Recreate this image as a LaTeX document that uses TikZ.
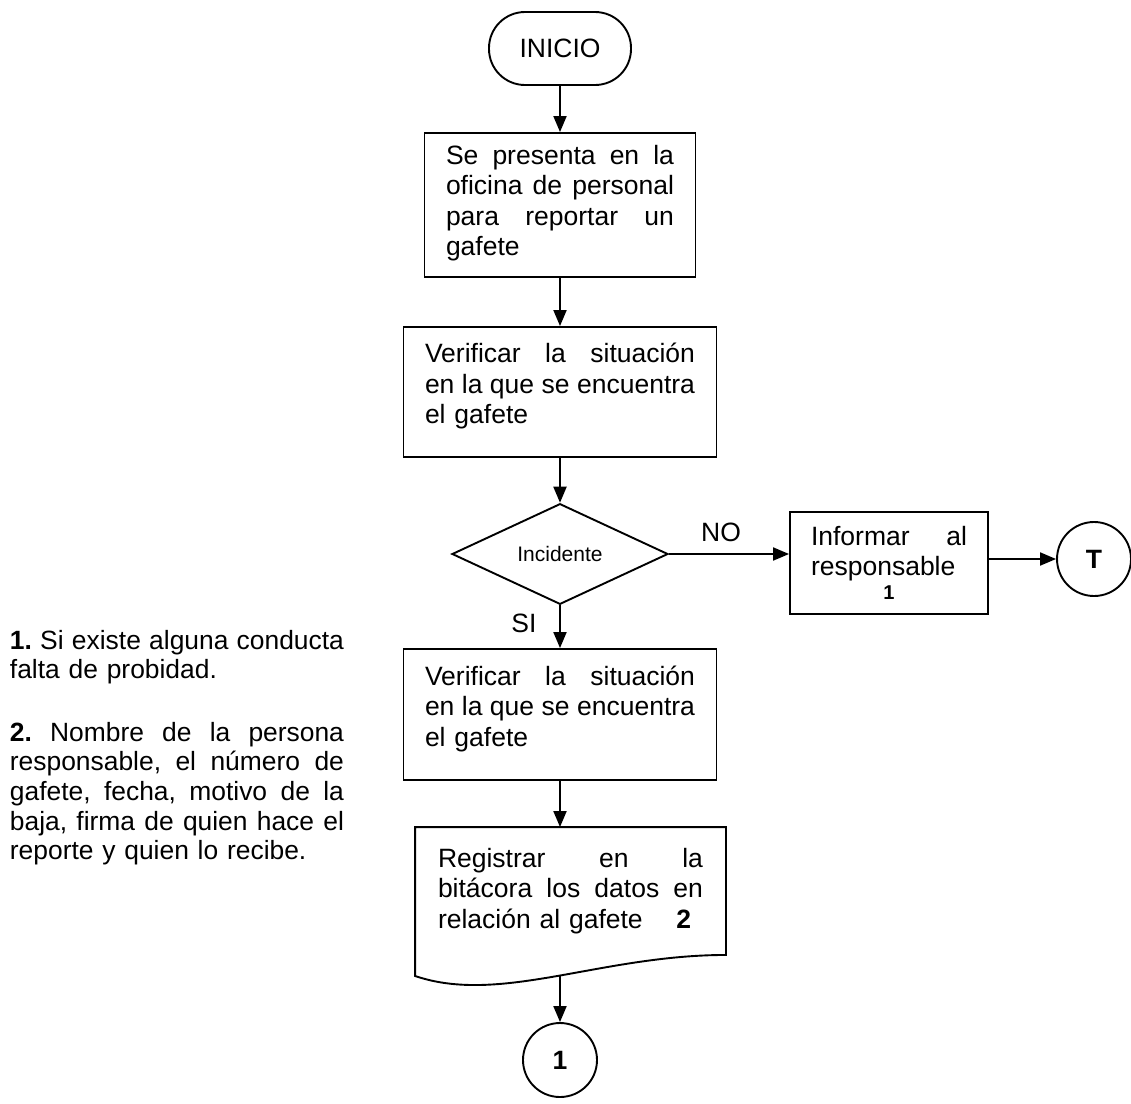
\documentclass[tikz,border=0pt]{standalone}
\usepackage{fontspec}
\setmainfont{Liberation Sans}
\usetikzlibrary{arrows.meta,shapes.geometric,calc}
\newcommand\jline[2]{\leavevmode\hbox to #1{#2}}
\begin{document}
\begin{tikzpicture}[x=1pt,y=-1pt,
  line width=1.9pt,
  every node/.style={font=\fontsize{26.5}{30.5}\selectfont},
  procbox/.style={draw, rectangle, inner sep=0pt, align=left},
  flow/.style={-{Triangle[length=16pt,width=13pt]}},
  conn/.style={draw, circle, inner sep=0pt, minimum size=74pt, font=\fontsize{26.5}{30.5}\selectfont\bfseries},
  lbl/.style={inner sep=0pt}]
\fill[white] (0,0) rectangle (1131,1103);
\useasboundingbox (0,0) rectangle (1131,1103);

\node[draw, rounded corners=36pt, minimum width=142pt, minimum height=73pt, inner sep=0pt] (inicio) at (560,48.5) {INICIO};

\node[procbox, text width=228pt, minimum width=271pt, minimum height=144pt] (b1) at (560,205)
 {\jline{228pt}{Se\hfill presenta\hfill en\hfill la}\\
  \jline{228pt}{oficina\hfill de\hfill personal}\\
  \jline{228pt}{para\hfill reportar\hfill un}\\ gafete\rule[-9pt]{0pt}{9pt}};

\node[procbox, text width=270pt, minimum width=313pt, minimum height=130pt] (b2) at (560,392)
 {\jline{270pt}{Verificar\hfill la\hfill situación}\\
  \jline{270pt}{en\hfill la\hfill que\hfill se\hfill encuentra}\\ el gafete\rule[-17pt]{0pt}{17pt}};

\node[draw, diamond, minimum width=216pt, minimum height=96pt, inner sep=0pt, font=\fontsize{21}{25}\selectfont] (dec) at (560,554) {Incidente};

\node[procbox, text width=156pt, minimum width=198pt, minimum height=102pt] (inf) at (889,563)
 {\jline{156pt}{Informar\hfill al}\\ responsable\\[-6.5pt] \jline{156pt}{\hfill\fontsize{20}{24}\selectfont\bfseries 1\hfill}};

\node[conn] (T) at (1094,559) {T};

\node[lbl] (no) at (721,532) {NO};
\node[lbl] (si) at (524,623) {SI};

\node[procbox, text width=270pt, minimum width=313pt, minimum height=131pt] (b3) at (560,714.5)
 {\jline{270pt}{Verificar\hfill la\hfill situación}\\
  \jline{270pt}{en\hfill la\hfill que\hfill se\hfill encuentra}\\ el gafete\rule[-17pt]{0pt}{17pt}};

\node[rectangle, inner sep=0pt, text width=265pt, minimum width=309pt, minimum height=126pt, align=left] (doc) at (570.5,891)
 {\jline{265pt}{Registrar\hfill en\hfill la}\\
  \jline{265pt}{bitácora\hfill los\hfill datos\hfill en}\\
  \jline{265pt}{relación al gafete\hfill\textbf{2}\hspace{12pt}}};
\draw (doc.north west) -- (doc.north east) -- (doc.south east)
  .. controls (600,955) and (500,1005) .. ($(doc.south west)+(0,21)$) -- cycle;

\node[conn] (c1) at (560,1060) {1};

\node[anchor=north west, inner sep=0pt, text width=334pt, align=left, font=\fontsize{26.4}{29.6}\selectfont] (notes) at (9,629)
 {\jline{334pt}{\textbf{1.}\hfill Si\hfill existe\hfill alguna\hfill conducta}\\ falta de probidad.\\[33pt]
  \jline{334pt}{\textbf{2.}\hfill Nombre\hfill de\hfill la\hfill persona}\\
  \jline{334pt}{responsable,\hfill el\hfill número\hfill de}\\
  \jline{334pt}{gafete,\hfill fecha,\hfill motivo\hfill de\hfill la}\\
  \jline{334pt}{baja,\hfill firma\hfill de\hfill quien\hfill hace\hfill el}\\
  reporte y quien lo recibe.};

\draw[flow] (inicio.south) -- (b1.north);
\draw[flow] (b1.south) -- (b2.north);
\draw[flow] (b2.south) -- (dec.north);
\draw[flow] (dec.south) -- (b3.north);
\draw[flow] (dec.east) -- (dec.east -| inf.west);
\draw[flow] (inf.east |- T.west) -- (T.west);
\draw[flow] (b3.south) -- (b3.south |- doc.north);
\coordinate (docb) at (560,976);
\draw[flow] (docb) -- (c1.north);
\end{tikzpicture}
\end{document}
